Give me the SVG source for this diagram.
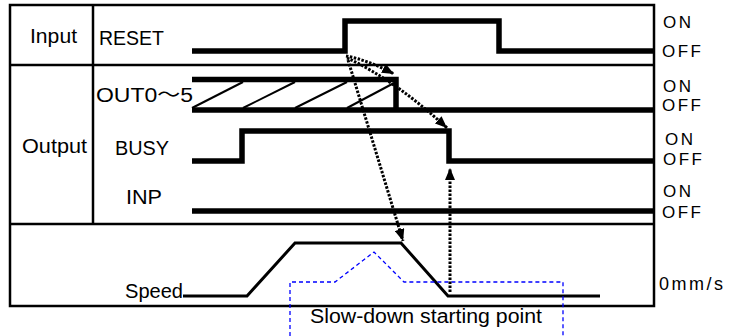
<svg xmlns="http://www.w3.org/2000/svg" width="744" height="336" viewBox="0 0 744 336">
<style>
.grid{stroke:#000;stroke-width:2.5;fill:none}
.sig{stroke:#000;stroke-width:5.5;fill:none;stroke-linejoin:miter}
.hatch{stroke:#000;stroke-width:2;fill:none}
.spd{stroke:#000;stroke-width:3;fill:none}
.blue{stroke:#0000ff;stroke-width:1.3;fill:none;stroke-dasharray:4 3}
.dot{stroke:#000;stroke-width:3;fill:none;stroke-dasharray:2.5 1.5}
.lbl{font-family:"Liberation Sans","Noto Sans CJK JP",Arial,sans-serif;font-size:20px;fill:#000}
.st{font-family:"Liberation Sans",Arial,sans-serif;font-size:17px;fill:#000;letter-spacing:2.5px}
</style>
<defs>
<marker id="ah" markerUnits="userSpaceOnUse" markerWidth="12" markerHeight="10" refX="12" refY="5" orient="auto">
<path d="M0,0 L12,5 L0,10 z" fill="#000"/>
</marker>
</defs>
<rect width="744" height="336" fill="#fff"/>
<g id="grid">
<rect class="grid" x="10" y="5" width="644" height="301"/>
<line class="grid" x1="93" y1="5" x2="93" y2="225"/>
<line class="grid" x1="10" y1="65" x2="654" y2="65"/>
<line class="grid" x1="10" y1="224" x2="654" y2="224"/>
</g>
<g id="labels">
<text class="lbl" x="30" y="43" textLength="47" lengthAdjust="spacingAndGlyphs">Input</text>
<text class="lbl" x="99" y="45" textLength="65" lengthAdjust="spacingAndGlyphs">RESET</text>
<text class="lbl" x="22" y="153" textLength="65" lengthAdjust="spacingAndGlyphs">Output</text>
<text class="lbl" x="96" y="102" textLength="97" lengthAdjust="spacingAndGlyphs">OUT0〜5</text>
<text class="lbl" x="115" y="155" textLength="54" lengthAdjust="spacingAndGlyphs">BUSY</text>
<text class="lbl" x="126" y="204" textLength="36" lengthAdjust="spacingAndGlyphs">INP</text>
<text class="lbl" x="125" y="298" textLength="58" lengthAdjust="spacingAndGlyphs">Speed</text>
</g>
<g id="states">
<text class="st" x="663" y="28">ON</text>
<text class="st" x="662" y="57">OFF</text>
<text class="st" x="663" y="92">ON</text>
<text class="st" x="662" y="111">OFF</text>
<text class="st" x="665" y="145">ON</text>
<text class="st" x="663" y="165">OFF</text>
<text class="st" x="663" y="197">ON</text>
<text class="st" x="662" y="218">OFF</text>
<text class="st" x="659" y="290" style="font-size:18px;letter-spacing:0" textLength="64" lengthAdjust="spacing">0mm/s</text>
</g>
<g id="reset">
<polyline class="sig" points="192,51 345,51 345,21 499,21 499,51 654,51"/>
</g>
<g id="out">
<polyline class="sig" points="192,79.5 396,79.5 396,110"/>
<line class="sig" x1="192" y1="110" x2="654" y2="110"/>
<line class="hatch" x1="192" y1="108" x2="243" y2="82"/>
<line class="hatch" x1="243" y1="108" x2="295" y2="82"/>
<line class="hatch" x1="295" y1="108" x2="347" y2="82"/>
<line class="hatch" x1="347" y1="108" x2="394" y2="83"/>
</g>
<g id="busy">
<polyline class="sig" points="192,161 242,161 242,131 449,131 449,161 654,161"/>
</g>
<g id="inp">
<line class="sig" x1="192" y1="211" x2="654" y2="211"/>
</g>
<g id="speed">
<polyline class="spd" points="183,296 247,296 295,243 401,243 448,296 600,296"/>
</g>
<g id="slowdown">
<path class="blue" d="M290,336 V282 H335 L374,252 L404,282 H563 V336"/>
<text class="lbl" x="310" y="323" textLength="232" lengthAdjust="spacingAndGlyphs">Slow-down starting point</text>
</g>
<g id="connectors">
<path class="dot" d="M346,56 Q368,60 394,74" marker-end="url(#ah)"/>
<path class="dot" d="M347,58 Q395,80 447,128" marker-end="url(#ah)"/>
<path class="dot" d="M348,60 L403,241" marker-end="url(#ah)"/>
<path class="dot" d="M450,292 V168" marker-end="url(#ah)"/>
</g>
</svg>
